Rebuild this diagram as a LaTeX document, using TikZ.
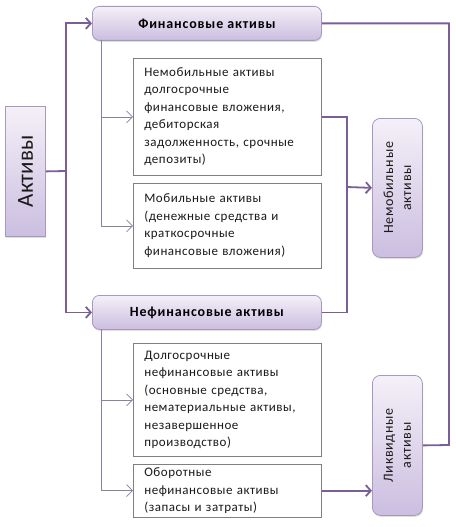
\documentclass[tikz,border=0pt]{standalone}
\usepackage{fontspec}
\setmainfont{Carlito}
\usetikzlibrary{arrows.meta,shadows}
\definecolor{lineP}{HTML}{7A5E96}
\definecolor{thinP}{HTML}{8A80A2}
\definecolor{boxTop}{HTML}{F4F0F8}
\definecolor{boxBot}{HTML}{CBBEE0}
\definecolor{boxBorder}{HTML}{A898BE}
\definecolor{wBorder}{HTML}{808080}
\definecolor{txt}{HTML}{1A1A1A}
\tikzset{
  pbox/.style={draw=boxBorder, line width=0.8pt, top color=boxTop, bottom color=boxBot,
    drop shadow={opacity=0.25, shadow xshift=0.8pt, shadow yshift=-1.5pt}},
  wbox/.style={draw=wBorder, line width=0.7pt, fill=white, align=left, anchor=north west,
    inner xsep=11pt, minimum width=188pt, text width=166pt, text=txt,
    font=\fontsize{13}{17.5}\selectfont\addfontfeatures{LetterSpace=4}},
  titletext/.style={text=black, font=\bfseries\fontsize{14}{16}\selectfont\addfontfeatures{LetterSpace=6}},
  vtext/.style={rotate=90, align=center, text=txt, font=\fontsize{14}{18}\selectfont\addfontfeatures{LetterSpace=5}},
  thickline/.style={draw=lineP, line width=1.8pt},
  thinline/.style={draw=thinP, line width=0.7pt},
  thicktip/.style={-{Straight Barb[length=5pt,width=11pt]}},
  thintip/.style={-{Straight Barb[length=6pt,width=12pt,line width=0.7pt]}}
}
\begin{document}
\begin{tikzpicture}[x=1pt,y=-1pt]
\useasboundingbox (0,0) rectangle (455,527);
% purple boxes
\node[pbox, anchor=north west, minimum width=40pt, minimum height=130pt] (akt) at (5,106) {};
\node[rotate=90, text=txt, font=\fontsize{23}{28}\selectfont] (aktt) at (akt.center) {Активы};
\node[pbox, rounded corners=7pt, anchor=north west, minimum width=229pt, minimum height=34pt, titletext] (fin) at (92,6) {Финансовые активы};
\node[pbox, rounded corners=7pt, anchor=north west, minimum width=229pt, minimum height=34pt, titletext] (nefin) at (92,295) {Нефинансовые активы};
\node[pbox, rounded corners=8pt, anchor=north west, minimum width=50pt, minimum height=139pt] (nemob) at (372,118) {};
\node[vtext] (nemobt) at (nemob.center) {Немобильные\\активы};
\node[pbox, rounded corners=8pt, anchor=north west, minimum width=50pt, minimum height=140pt] (likv) at (372,375) {};
\node[vtext] (likvt) at (likv.center) {Ликвидные\\активы};
% white boxes
\node[wbox, minimum height=117pt] (b1) at (133,58) {Немобильные активы\\долгосрочные\\финансовые вложения,\\дебиторская\\задолженность, срочные\\депозиты)};
\node[wbox, minimum height=85pt] (b2) at (133,183) {Мобильные активы\\(денежные средства и\\краткосрочные\\финансовые вложения)};
\node[wbox, minimum height=113pt] (b3) at (133,343) {Долгосрочные\\нефинансовые активы\\(основные средства,\\нематериальные активы,\\незавершенное\\производство)};
\node[wbox, minimum height=52pt] (b4) at (133,464) {Оборотные\\нефинансовые активы\\(запасы и затраты)};
% junctions
\coordinate (j1) at (66,171);
\coordinate (j2) at (347,187);
\coordinate (j3) at (449,445);
\coordinate (t1) at (101,40);
\coordinate (t2) at (101,329);
% thick connectors
\draw[thickline] (akt.east) -- (j1);
\draw[thickline,thicktip] (j1) |- (fin.west);
\draw[thickline,thicktip] (j1) |- (nefin.west);
\draw[thickline] (b1.east) -| (j2);
\draw[thickline] (nefin.east) -| (j2);
\draw[thickline,thicktip] (j2) -- (nemob.west);
\draw[thickline] (fin.east) -| (j3) -- (likv.east);
\draw[thickline,thicktip] (b4.east) -- (b4.east -| likv.west);
% thin connectors
\draw[thinline,thintip] (t1) |- (b1.west);
\draw[thinline,thintip] (t1) |- (b2.west);
\draw[thinline,thintip] (t2) |- (b3.west);
\draw[thinline,thintip] (t2) |- (b4.west);
\end{tikzpicture}
\end{document}
